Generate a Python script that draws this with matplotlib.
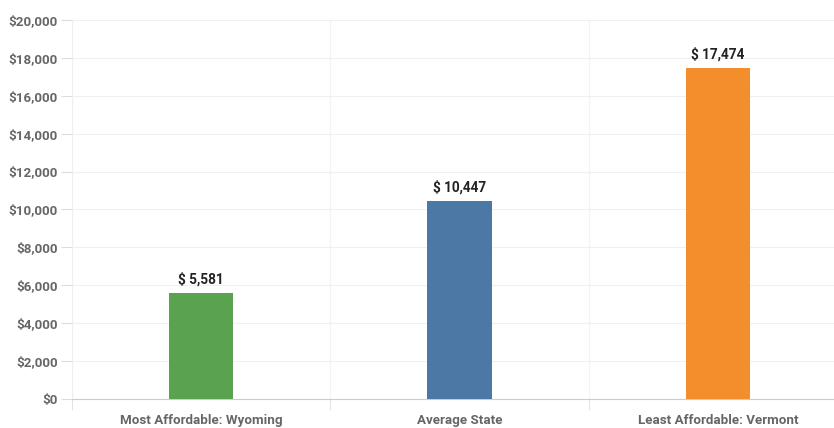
import matplotlib.pyplot as plt
from matplotlib.ticker import FuncFormatter, FixedLocator

plt.rcParams['font.family'] = ['Roboto', 'DejaVu Sans']

categories = ['Most Affordable: Wyoming', 'Average State', 'Least Affordable: Vermont']
costs = [5581, 10447, 17474]
colors = ['#5aa24f', '#4c78a6', '#f28e2c']

fig = plt.figure(figsize=(8.34, 4.28), dpi=100)
ax = fig.add_axes([72 / 834, 29 / 428, 775 / 834, 379 / 428])

x = range(len(categories))
ax.bar(x, costs, width=0.25, color=colors, zorder=3)
for xi, v in zip(x, costs):
    ax.text(xi, v + 350, f'$ {v:,}', ha='center', va='bottom',
            fontsize=9.8, fontweight='bold', color='#222222')

ax.set_xlim(-0.5, 2.5)
ax.set_ylim(0, 20000)
ax.set_yticks(range(0, 20001, 2000))
ax.yaxis.set_major_formatter(FuncFormatter(lambda v, p: f'${int(v):,}'))
ax.set_xticks(list(x))
ax.set_xticklabels(categories)
ax.xaxis.set_minor_locator(FixedLocator([-0.5, 0.5, 1.5, 2.5]))

ax.tick_params(axis='y', length=8, color='#dddddd', labelsize=9.6, labelcolor='#666666', pad=2)
ax.tick_params(axis='x', which='major', length=0, labelsize=9.6, labelcolor='#666666', pad=11)
ax.tick_params(axis='x', which='minor', length=8, color='#dddddd')
for lab in ax.get_xticklabels() + ax.get_yticklabels():
    lab.set_fontweight('bold')

ax.grid(axis='y', color='#f0f0f0', linewidth=0.8, zorder=0)
ax.grid(axis='x', which='minor', color='#f3f3f3', linewidth=0.8, zorder=0)
for side in ['top', 'right']:
    ax.spines[side].set_visible(False)
ax.spines['left'].set_color('#eeeeee')
ax.spines['bottom'].set_color('#cccccc')

fig.savefig('out.png', dpi=100)
